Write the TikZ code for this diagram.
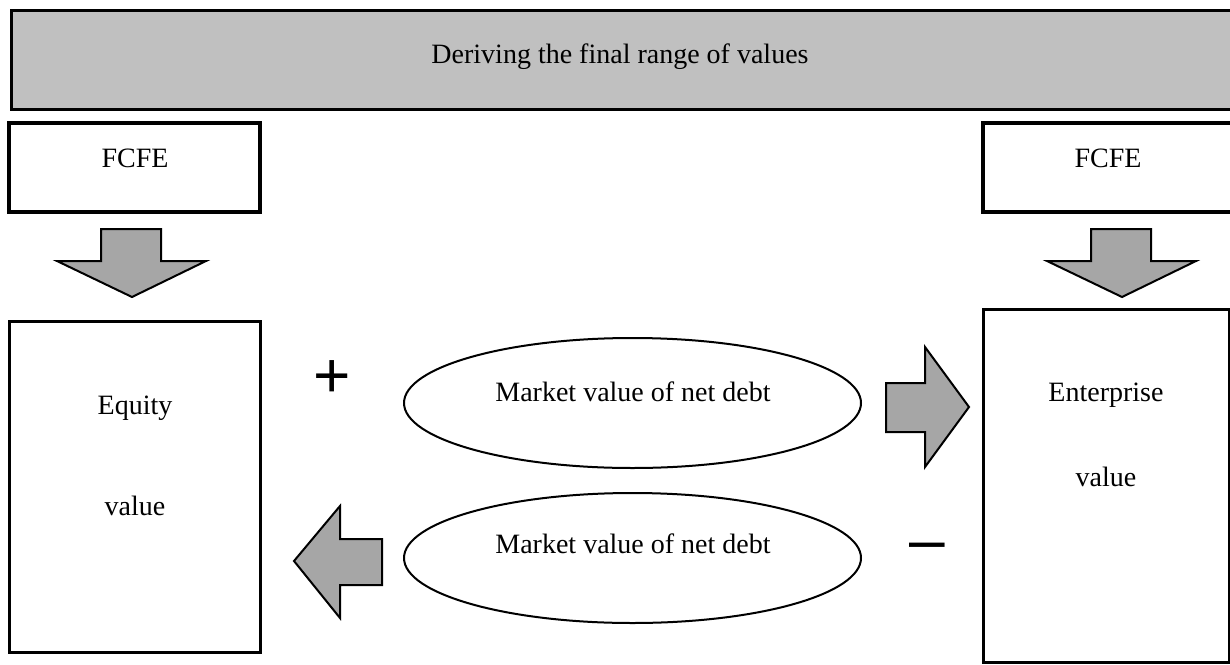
\documentclass[tikz,border=0pt]{standalone}
\usepackage{fontspec}
\setmainfont{Liberation Serif}
\newfontfamily\signfont{Liberation Sans}
\usetikzlibrary{shapes.geometric}
\definecolor{bannergray}{RGB}{192,192,192}
\definecolor{arrowgray}{RGB}{166,166,166}
\begin{document}
\begin{tikzpicture}[x=0.5pt,y=-0.5pt,
  font=\fontsize{14}{17}\selectfont,
  banner/.style={draw=black, fill=bannergray, line width=1.5pt, inner sep=0pt},
  boxnode/.style={draw=black, fill=white, line width=1.6pt, inner sep=0pt},
  oval/.style={draw=black, ellipse, line width=1pt, inner sep=0pt, minimum width=228.5pt, minimum height=65pt},
  blockarrow/.style={draw=black, fill=arrowgray, line width=1pt, line join=miter},
  label/.style={inner sep=0pt, anchor=base},
  sign/.style={inner sep=0pt, font=\signfont\fontsize{32}{32}\selectfont}]
\useasboundingbox (0,0) rectangle (1230,664);
% banner
\node[banner, minimum width=611pt, minimum height=49.5pt] (banner) at (622,59.5) {};
\node[label] (bannertext) at (620,63) {Deriving the final range of values};
% FCFE boxes
\node[boxnode, minimum width=125.5pt, minimum height=44.5pt] (fcfeL) at (134.5,167.5) {};
\node[label] (fcfeLtext) at (135,167) {FCFE};
\node[boxnode, minimum width=125pt, minimum height=44.5pt] (fcfeR) at (1108,167.5) {};
\node[label] (fcfeRtext) at (1108,167) {FCFE};
% down arrows
\draw[blockarrow] (101,229) -- (161,229) -- (161,261) -- (206,261) -- (132,297) -- (57,261) -- (101,261) -- cycle;
\draw[blockarrow] (1091,229) -- (1151,229) -- (1151,261) -- (1196,261) -- (1122,297) -- (1047,261) -- (1091,261) -- cycle;
% value boxes
\node[boxnode, line width=1.5pt, minimum width=125.5pt, minimum height=165.5pt] (equity) at (134.5,486.5) {};
\node[label] (equityA) at (135,414) {Equity};
\node[label] (equityB) at (135,515) {value};
\node[boxnode, line width=1.5pt, minimum width=123pt, minimum height=176.5pt] (enterprise) at (1106,485.5) {};
\node[label] (enterpriseA) at (1106,401) {Enterprise};
\node[label] (enterpriseB) at (1106,486) {value};
% ellipses
\node[oval] (debtTop) at (632.5,403) {};
\node[label] (debtTopText) at (633,401) {Market value of net debt};
\node[oval] (debtBot) at (632.5,558) {};
\node[label] (debtBotText) at (633,553) {Market value of net debt};
% side arrows
\draw[blockarrow] (886,383) -- (925,383) -- (925,347) -- (969,407) -- (925,467) -- (925,432) -- (886,432) -- cycle;
\draw[blockarrow] (382,539) -- (340,539) -- (340,506) -- (294,561) -- (340,618) -- (340,585) -- (382,585) -- cycle;
% signs
\node[sign] (plus) at (332,379) {+};
\node[sign] (minus) at (927.5,552) {\textendash};
\end{tikzpicture}
\end{document}
